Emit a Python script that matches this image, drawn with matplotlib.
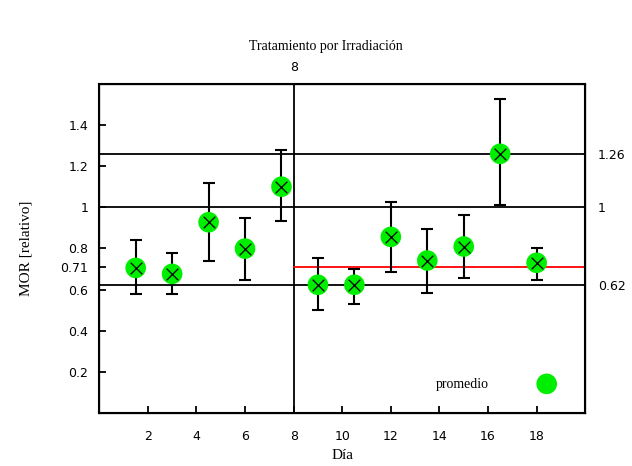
import numpy as np
import matplotlib.pyplot as plt

# dias de medicion y MOR relativo (promedio, extremos de la barra de error)
dia = [1.5, 3, 4.5, 6, 7.5, 9, 10.5, 12, 13.5, 15, 16.5, 18]
mor = [0.705, 0.676, 0.927, 0.799, 1.10, 0.623, 0.623, 0.856, 0.741, 0.809, 1.26, 0.73]
mor_max = [0.84, 0.776, 1.116, 0.947, 1.277, 0.751, 0.70, 1.025, 0.894, 0.96, 1.526, 0.80]
mor_min = [0.577, 0.577, 0.738, 0.648, 0.932, 0.50, 0.53, 0.686, 0.582, 0.656, 1.009, 0.648]

y_lineas = [1.26, 1.0, 0.62]
y_rojo = 0.71
dia_corte = 8

xticks = [2, 4, 6, 8, 10, 12, 14, 16, 18]
yticks = [0.2, 0.4, 0.6, 0.71, 0.8, 1, 1.2, 1.4]
yticks_lbl = ['0.2', '0.4', '0.6', '0.71', '0.8', '1', '1.2', '1.4']

mor = np.array(mor)
err = [mor - np.array(mor_min), np.array(mor_max) - mor]

fig = plt.figure(figsize=(6.32, 4.66), dpi=100)
ax = fig.add_axes([0.157, 0.114, 0.769, 0.706])

for y in y_lineas:
    ax.axhline(y, color='black', lw=1.3, zorder=1)
ax.axvline(dia_corte, color='black', lw=1.3, zorder=1)
ax.plot([dia_corte, 20], [y_rojo, y_rojo], color='red', lw=1.3, zorder=1)

ax.errorbar(dia, mor, yerr=err, fmt='none', ecolor='black', elinewidth=1.5,
            capsize=4, capthick=1.5, zorder=2)
ax.scatter(dia, mor, s=220, color='#00ee00', edgecolors='none', zorder=3, label='promedio')
ax.scatter(dia, mor, s=70, marker='x', color='black', linewidths=0.9, zorder=4)

ax.set_xlim(0, 20)
ax.set_ylim(0, 1.6)
ax.set_xticks(xticks)
ax.set_yticks(yticks)
ax.set_yticklabels(yticks_lbl)
ax.tick_params(direction='in', length=5, width=1.3, top=True, right=True,
               labelsize=9)
ax.tick_params(axis='x', pad=12)
ax.tick_params(axis='y', pad=8)
for s in ax.spines.values():
    s.set_linewidth(1.5)

ax2 = ax.twinx()
ax2.set_ylim(0, 1.6)
ax2.set_yticks(y_lineas)
ax2.set_yticklabels(['1.26', '1', '0.62'])
ax2.tick_params(length=0, labelsize=9, pad=9)

ax3 = ax.twiny()
ax3.set_xlim(0, 20)
ax3.set_xticks([dia_corte])
ax3.set_xticklabels(['8'])
ax3.tick_params(length=0, labelsize=9, pad=7)

ax.set_xlabel('Día', family='Liberation Serif', fontsize=11, labelpad=5)
ax.set_ylabel('MOR [relativo]', family='Liberation Serif', fontsize=11, labelpad=20)
fig.text(0.515, 0.893, 'Tratamiento por Irradiación', family='Liberation Serif',
         fontsize=10, ha='center')

leg = ax.legend(loc='lower right', frameon=False, markerfirst=False,
                prop={'family': 'Liberation Serif', 'size': 10},
                bbox_to_anchor=(0.975, 0.03), handletextpad=3.2)

plt.savefig('out.png', dpi=100)
